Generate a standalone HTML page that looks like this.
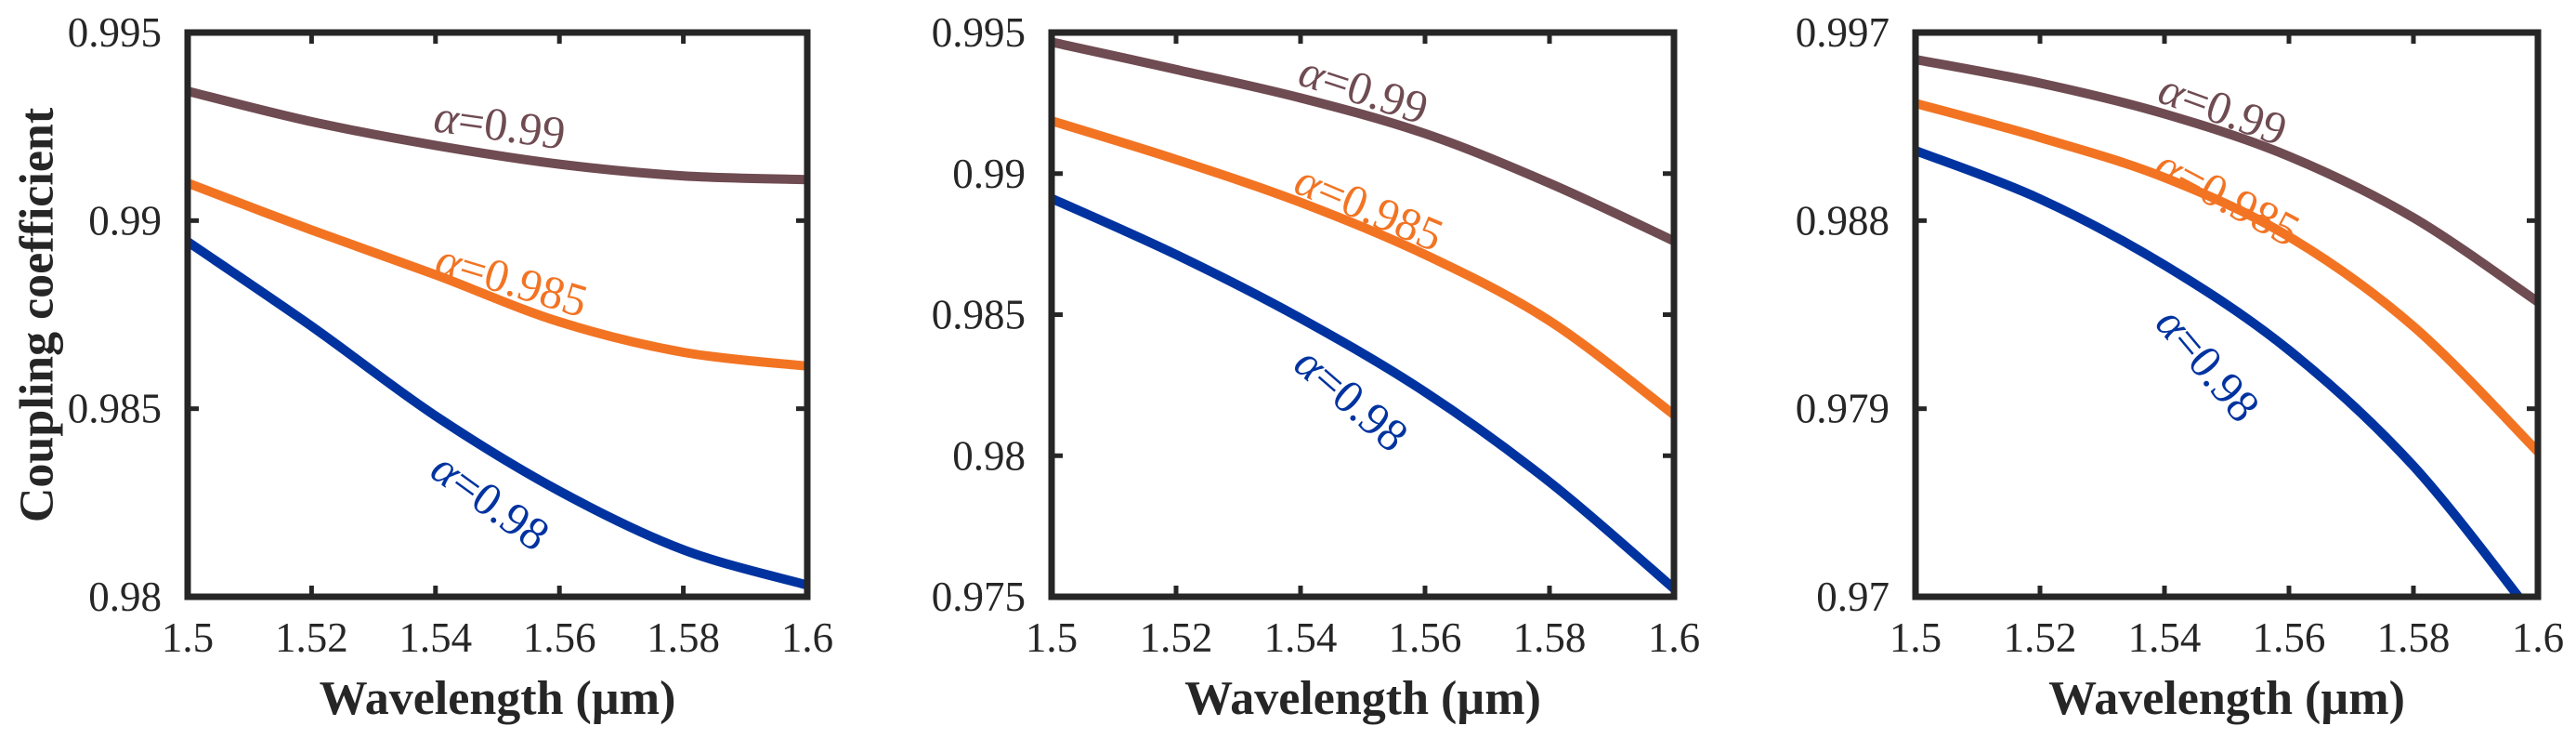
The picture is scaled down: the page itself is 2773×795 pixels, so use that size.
<!DOCTYPE html>
<html><head><meta charset="utf-8"><style>
html,body{margin:0;padding:0;background:#fff;}
svg{display:block;font-family:"Liberation Serif",serif;}
</style></head><body>
<svg id="chart" width="2773" height="795" viewBox="0 0 2773 795" xmlns="http://www.w3.org/2000/svg"></svg>
<script>
const wavelengths = [1.5, 1.52, 1.54, 1.56, 1.58, 1.6];
const xTicks = [1.5, 1.52, 1.54, 1.56, 1.58, 1.6];
const xTickLabels = ["1.5", "1.52", "1.54", "1.56", "1.58", "1.6"];
const seriesNames = ["α=0.99", "α=0.985", "α=0.98"];

const p1Y099 = [0.99344, 0.99263, 0.99200, 0.99150, 0.99119, 0.99109];
const p1Y0985 = [0.99100, 0.98975, 0.98856, 0.98731, 0.98650, 0.98613];
const p1Y098 = [0.98944, 0.98719, 0.98481, 0.98281, 0.98125, 0.98031];
const p1YTicks = [0.98, 0.985, 0.99, 0.995];
const p1YTickLabels = ["0.98", "0.985", "0.99", "0.995"];

const p2Y099 = [0.99466, 0.99369, 0.99268, 0.99142, 0.98966, 0.98761];
const p2Y0985 = [0.99187, 0.99050, 0.98898, 0.98713, 0.98478, 0.98145];
const p2Y098 = [0.98912, 0.98713, 0.98487, 0.98226, 0.97907, 0.97529];
const p2YTicks = [0.975, 0.98, 0.985, 0.99, 0.995];
const p2YTickLabels = ["0.975", "0.98", "0.985", "0.99", "0.995"];

const p3Y099 = [0.99571, 0.99458, 0.99311, 0.99108, 0.98814, 0.98411];
const p3Y0985 = [0.99361, 0.99198, 0.99006, 0.98723, 0.98294, 0.97694];
const p3Y098 = [0.99135, 0.98904, 0.98587, 0.98180, 0.97626, 0.96880];
const p3YTicks = [0.97, 0.979, 0.988, 0.997];
const p3YTickLabels = ["0.97", "0.979", "0.988", "0.997"];

const colors = ["#6f4b52", "#f27423", "#0033a0"];
const NS = "http://www.w3.org/2000/svg";
const svgRoot = document.getElementById("chart");

function mk(tag, attrs, parent) {
  const e = document.createElementNS(NS, tag);
  for (const k in attrs) e.setAttribute(k, attrs[k]);
  (parent || svgRoot).appendChild(e);
  return e;
}

function smoothPath(pts) {
  let d = "M" + pts[0][0].toFixed(1) + "," + pts[0][1].toFixed(1);
  for (let i = 0; i < pts.length - 1; i++) {
    const p0 = pts[i - 1] || pts[i], p1 = pts[i], p2 = pts[i + 1], p3 = pts[i + 2] || pts[i + 1];
    const c1x = p1[0] + (p2[0] - p0[0]) / 6, c1y = p1[1] + (p2[1] - p0[1]) / 6;
    const c2x = p2[0] - (p3[0] - p1[0]) / 6, c2y = p2[1] - (p3[1] - p1[1]) / 6;
    d += " C" + c1x.toFixed(1) + "," + c1y.toFixed(1) + " " + c2x.toFixed(1) + "," + c2y.toFixed(1) + " " + p2[0].toFixed(1) + "," + p2[1].toFixed(1);
  }
  return d;
}

const panels = [
  {left: 202, right: 869, ys: [p1Y099, p1Y0985, p1Y098], yt: p1YTicks, ytl: p1YTickLabels,
   labels: [[538, 134, 8], [551, 301, 17], [528, 539, 36]]},
  {left: 1132, right: 1802, ys: [p2Y099, p2Y0985, p2Y098], yt: p2YTicks, ytl: p2YTickLabels,
   labels: [[1468, 96, 18], [1474, 223, 23], [1455, 429, 41]]},
  {left: 2062, right: 2732, ys: [p3Y099, p3Y0985, p3Y098], yt: p3YTicks, ytl: p3YTickLabels,
   labels: [[2393, 117, 20], [2398, 212, 28], [2377, 392, 50]]}
];
const plotTop = 35, plotBottom = 642;

panels.forEach((P, pi) => {
  const g = mk("g", {});
  
  
  const x = v => P.left + (v - 1.5) / 0.1 * (P.right - P.left);
  const yMin = P.yt[0], yMax = P.yt[P.yt.length - 1];
  const y = v => plotBottom - (v - yMin) / (yMax - yMin) * (plotBottom - plotTop);

  const cid = "clip" + pi;
  const cp = mk("clipPath", {id: cid}, g);
  mk("rect", {x: P.left, y: plotTop, width: P.right - P.left, height: plotBottom - plotTop}, cp);

  P.ys.forEach((vals, si) => {
    const pts = wavelengths.map((w, i) => [x(w), y(vals[i])]);
    const path = mk("path", {d: smoothPath(pts), fill: "none", stroke: colors[si], "stroke-width": 10, "clip-path": "url(#" + cid + ")"}, g);
    
    
    const L = P.labels[si];
    const t = mk("text", {x: L[0], y: L[1], fill: colors[si], "font-size": 50, "text-anchor": "middle", "dominant-baseline": "central", transform: "rotate(" + L[2] + " " + L[0] + " " + L[1] + ")"}, g);
    const a = mk("tspan", {"font-style": "italic"}, t);
    a.textContent = "α";
    const b = mk("tspan", {}, t);
    b.textContent = seriesNames[si].slice(1);
    
    
  });

  xTicks.forEach((v, i) => {
    const xx = x(v);
    mk("line", {x1: xx, x2: xx, y1: plotBottom, y2: plotBottom - 12, stroke: "#262626", "stroke-width": 5}, g);
    mk("line", {x1: xx, x2: xx, y1: plotTop, y2: plotTop + 12, stroke: "#262626", "stroke-width": 5}, g);
    const t = mk("text", {x: xx, y: 701, "font-size": 45, "text-anchor": "middle", fill: "#262626"}, g);
    t.textContent = xTickLabels[i];
    
    
  });
  P.yt.forEach((v, i) => {
    const yy = y(v);
    mk("line", {x1: P.left, x2: P.left + 12, y1: yy, y2: yy, stroke: "#262626", "stroke-width": 5}, g);
    mk("line", {x1: P.right, x2: P.right - 12, y1: yy, y2: yy, stroke: "#262626", "stroke-width": 5}, g);
    const t = mk("text", {x: P.left - 28, y: yy + 15, "font-size": 45, "text-anchor": "end", fill: "#262626"}, g);
    t.textContent = P.ytl[i];
    
    
  });

  const frame = mk("rect", {x: P.left, y: plotTop, width: P.right - P.left, height: plotBottom - plotTop, fill: "none", stroke: "#262626", "stroke-width": 7}, g);
  
  

  const xl = mk("text", {x: (P.left + P.right) / 2, y: 768, "font-size": 52, "font-weight": "bold", "text-anchor": "middle", fill: "#262626"}, g);
  xl.textContent = "Wavelength (µm)";
  
  
});

const yl = mk("text", {x: 40, y: 339, "font-size": 52, "font-weight": "bold", "text-anchor": "middle", "dominant-baseline": "central", fill: "#262626", transform: "rotate(-90 40 339)"});
yl.textContent = "Coupling coefficient";


</script>
</body></html>
